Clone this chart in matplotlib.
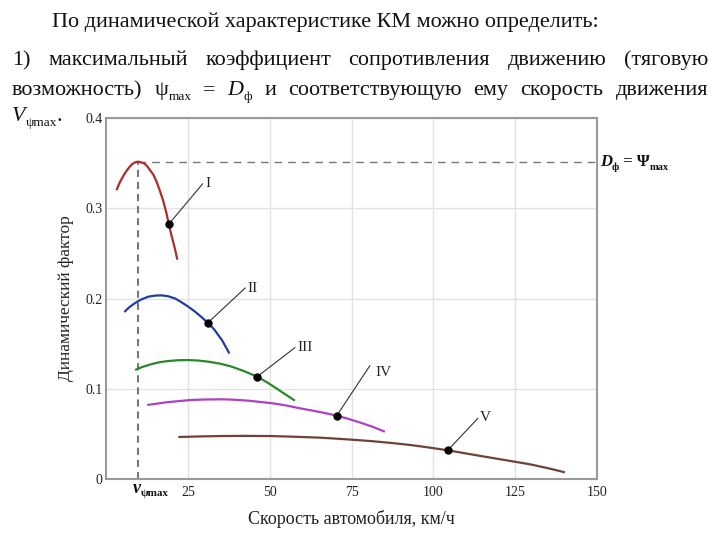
import matplotlib
matplotlib.use('Agg')
import matplotlib.pyplot as plt
from matplotlib.transforms import IdentityTransform

SERIF = ['Liberation Serif', 'DejaVu Serif']
plt.rcParams['font.family'] = SERIF

# ---------------- data ----------------
gears = ['I', 'II', 'III', 'IV', 'V']
v_I = [3.2, 4.0, 5.0, 6.0, 7.0, 8.0, 9.0, 9.65, 10.3, 11.5, 12.5, 13.5, 14.5, 15.5,
       16.5, 17.5, 18.5, 19.2, 20.0, 21.0, 21.8]
D_I = [0.320, 0.327, 0.334, 0.340, 0.345, 0.349, 0.351, 0.3516, 0.3513, 0.350, 0.347,
       0.342, 0.337, 0.329, 0.319, 0.308, 0.294, 0.2825, 0.270, 0.256, 0.243]
v_II = [5.6, 7.0, 8.9, 10.5, 12.9, 15.0, 17.0, 19.0, 21.1, 23.0, 25.1, 27.0, 29.0,
        31.1, 33.0, 35.5, 37.7]
D_II = [0.185, 0.190, 0.195, 0.1985, 0.202, 0.2032, 0.2035, 0.2025, 0.200, 0.196,
        0.191, 0.186, 0.180, 0.173, 0.166, 0.1535, 0.139]
v_III = [8.9, 11.0, 14.0, 16.5, 19.0, 22.0, 25.1, 28.0, 31.3, 35.0, 38.4, 42.0, 46.2,
         49.0, 51.6, 54.5, 57.7]
D_III = [0.1208, 0.124, 0.1274, 0.1295, 0.1307, 0.1316, 0.1318, 0.1313, 0.130, 0.1277,
         0.1245, 0.1198, 0.1134, 0.1075, 0.1015, 0.0945, 0.0868]
v_IV = [12.6, 18.5, 25.7, 30.5, 35.8, 40.0, 44.0, 51.1, 55.0, 59.3, 65.0, 70.5, 74.0,
        77.6, 81.5, 85.2]
D_IV = [0.082, 0.085, 0.0875, 0.0881, 0.0883, 0.0877, 0.0866, 0.0838, 0.0815, 0.0783,
        0.0745, 0.0702, 0.0667, 0.0626, 0.0578, 0.0524]
v_V = [22.1, 28.0, 34.8, 42.0, 50.1, 57.0, 65.4, 73.0, 80.7, 87.0, 92.9, 98.5, 104.4,
       110.0, 116.3, 123.0, 129.5, 135.0, 140.2]
D_V = [0.0465, 0.0471, 0.0476, 0.0478, 0.0476, 0.0469, 0.0458, 0.0441, 0.0421, 0.0400,
       0.0377, 0.0350, 0.0318, 0.0283, 0.0244, 0.0203, 0.0163, 0.0120, 0.0074]

dot_v = [19.2, 31.1, 46.2, 70.5, 104.4]
dot_D = [0.2825, 0.173, 0.1134, 0.0702, 0.0318]

v_psi_max = 9.65
D_phi = 0.3516

x_ticks = [25, 50, 75, 100, 125, 150]
y_ticks = [0, 0.1, 0.2, 0.3, 0.4]
y_tick_labels = ['0', '0.1', '0.2', '0.3', '0.4']

colors = ['#a8302a', '#1f3f9f', '#27892a', '#b03fc6', '#6f4233']
label_pos = [(30.3, 0.327), (43.3, 0.2116), (58.5, 0.1455), (82.2, 0.118), (114.2, 0.068)]
line_end = [(29.5, 0.327), (42.5, 0.2116), (57.7, 0.1455), (80.6, 0.1255), (113.6, 0.0672)]

title = 'По динамической характеристике КМ можно определить:'

# ---------------- figure ----------------
W, H = 720, 540
fig = plt.figure(figsize=(7.2, 5.4), dpi=100)
ax = fig.add_axes([106 / W, 1 - 479 / H, (597 - 106) / W, (479 - 118) / H])

curves = [(v_I, D_I), (v_II, D_II), (v_III, D_III), (v_IV, D_IV), (v_V, D_V)]
for (vv, dd), c in zip(curves, colors):
    ax.plot(vv, dd, color=c, lw=1.6, solid_joinstyle='round', solid_capstyle='butt', zorder=3)

for i, g in enumerate(gears):
    ax.plot([dot_v[i], line_end[i][0]], [dot_D[i], line_end[i][1]], color='#333333', lw=0.8, zorder=4)
    ax.plot(dot_v[i], dot_D[i], 'o', color='black', ms=5, zorder=5)
    ax.text(label_pos[i][0], label_pos[i][1], g, fontsize=11, va='center', ha='left', color='#222222')

ax.plot([v_psi_max, v_psi_max], [0, D_phi], color='#777777', lw=1.5, dashes=(3.4, 2.4), zorder=2)
ax.plot([v_psi_max, 150], [D_phi, D_phi], color='#777777', lw=1.0, dashes=(5.5, 4.3), zorder=2)

ax.set_xlim(0, 150)
ax.set_ylim(0, 0.4)
ax.set_xticks(x_ticks)
ax.set_xticklabels([str(t) for t in x_ticks])
ax.set_yticks(y_ticks)
ax.set_yticklabels(y_tick_labels)
ax.tick_params(length=0, labelsize=10, colors='#222222')
ax.tick_params(axis='x', pad=5)
ax.tick_params(axis='y', pad=2.5)
ax.grid(True, color='#e2e2e2', lw=1)
ax.set_axisbelow(True)
for s in ax.spines.values():
    s.set_color('#9a9a9a')
    s.set_linewidth(1.5)

ax.set_xlabel('Скорость автомобиля, км/ч', fontsize=13, labelpad=8, color='#222222')
ax.set_ylabel('Динамический фактор', fontsize=12.5, labelpad=8, color='#222222')

fig.canvas.draw()
R = fig.canvas.get_renderer()
IT = IdentityTransform()


def make_runs(runs):
    """runs: list of (text, kwargs, dy_px). Returns list of (Text, width, dy) and total width."""
    out = []
    tot = 0
    for text, kw, dy in runs:
        t = fig.text(0, 0, text, transform=IT, va='baseline', ha='left', **kw)
        w = t.get_window_extent(R).width
        out.append((t, w, dy))
        tot += w
    return out, tot


def place(items, x, y_base):
    for t, w, dy in items:
        t.set_position((x, H - (y_base + dy)))
        x += w
    return x


# title, fitted to its width
tt = fig.text(0, 0, title, transform=IT, va='baseline', ha='left', fontsize=15, color='#111111')
tw = tt.get_window_extent(R).width
FS = 15 * (597 - 52) / tw
tt.set_fontsize(FS)
tt.set_position((52, H - 27))

SUB = FS * 0.6
base = dict(fontsize=FS, color='#111111')
ital = dict(fontsize=FS, color='#111111', style='italic')
sub = dict(fontsize=SUB, color='#111111')

line1 = [[('1)', base, 0)], [('максимальный', base, 0)], [('коэффициент', base, 0)],
         [('сопротивления', base, 0)], [('движению', base, 0)], [('(тяговую', base, 0)]]
line2 = [[('возможность)', base, 0)], [('ψ', base, 0), ('max', sub, 5)], [('=', base, 0)],
         [('D', ital, 0), ('ф', sub, 5)], [('и', base, 0)], [('соответствующую', base, 0)],
         [('ему', base, 0)], [('скорость', base, 0)], [('движения', base, 0)]]


def justify(words, y_base, x0=12, x1=708):
    built = [make_runs(w) for w in words]
    total = sum(b[1] for b in built)
    gap = (x1 - x0 - total) / (len(built) - 1)
    x = x0
    for items, w in built:
        place(items, x, y_base)
        x += w + gap


justify(line1, 65)
justify(line2, 95)

items, _ = make_runs([('V', ital, 0), ('ψmax', sub, 5), ('.', base, 0)])
place(items, 12, 121)

# D_phi = Psi_max label at right of the plot
bold = dict(fontsize=12, color='#111111', weight='bold')
bital = dict(fontsize=12, color='#111111', weight='bold', style='italic')
bsub = dict(fontsize=7.5, color='#111111', weight='bold')
items, _ = make_runs([('D', bital, 0), ('ф', bsub, 4), (' = Ψ', bold, 0), ('max', bsub, 4)])
place(items, 600, 166)

# v_psi_max label under the x axis
items, _ = make_runs([('v', dict(fontsize=13, color='#111111', weight='bold', style='italic'), 0),
                      ('ψmax', dict(fontsize=8, color='#111111', weight='bold'), 3)])
place(items, 133, 493)

fig.savefig('out.png', dpi=100)
